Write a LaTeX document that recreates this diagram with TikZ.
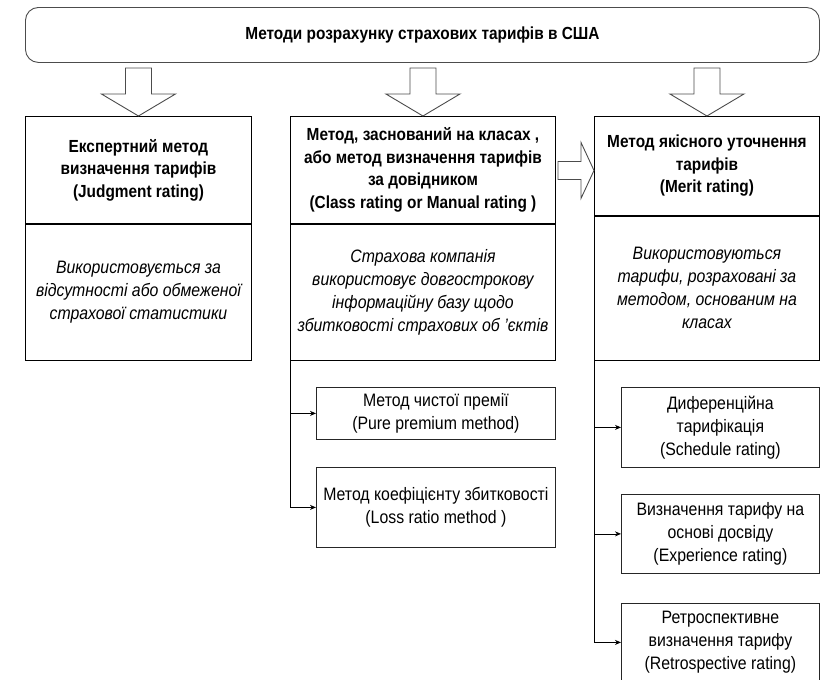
\documentclass[tikz,border=0pt]{standalone}
\usepackage{fontspec}
\setmainfont{Liberation Sans}[FakeStretch=0.88]
\usetikzlibrary{arrows.meta}
\begin{document}
\begin{tikzpicture}[x=1pt,y=-1pt,
  every node/.style={inner sep=0pt, anchor=north west, align=center},
  frame/.style={draw=black, line width=0.9pt},
  subframe/.style={draw=black!85, line width=0.8pt},
  hdr/.style={frame, font=\fontsize{17.5}{22.5}\selectfont\bfseries},
  dsc/.style={frame, font=\fontsize{18}{23}\selectfont\itshape},
  sub/.style={subframe, font=\fontsize{18}{23}\selectfont},
  topbox/.style={draw=black!70, line width=0.9pt, rounded corners=13pt,
    font=\fontsize{17.5}{20}\selectfont\bfseries},
  hollow/.style={draw=black!70, line width=0.9pt, fill=white, line join=miter},
  conn/.style={draw=black, line width=0.8pt, -{Stealth[length=6pt,width=5pt]}},
  downblock/.pic={\path[hollow] (0,0) -- (-37,-22) -- (-13,-22) -- (-13,-48)
    -- (13,-48) -- (13,-22) -- (37,-22) -- cycle;},
  rightblock/.pic={\path[hollow] (0,0) -- (-13,-28) -- (-13,-9) -- (-36,-9)
    -- (-36,9) -- (-13,9) -- (-13,28) -- cycle;}
]
\useasboundingbox (0,0) rectangle (825,680);
\clip (0,0) rectangle (825,680);

% title
\node[topbox, minimum width=794pt, minimum height=55pt] (top) at (25,7)
  {Методи розрахунку страхових тарифів в США};

% three main methods
\node[hdr, minimum width=226pt, minimum height=107pt] (lhead) at (25,116)
  {Експертний метод\\ визначення тарифів\\ (Judgment rating)};
\node[dsc, minimum width=226pt, minimum height=136pt] (ldesc) at (lhead.south west)
  {Використовується за\\ відсутності або обмеженої\\ страхової статистики};

\node[hdr, minimum width=265pt, minimum height=107pt] (mhead) at (290,116)
  {Метод, заснований на класах ,\\ або метод визначення тарифів\\ за довідником\\ (Class rating or Manual rating )};
\node[dsc, minimum width=265pt, minimum height=136pt] (mdesc) at (mhead.south west)
  {Страхова компанія\\ використовує довгострокову\\ інформаційну базу щодо\\ збитковості страхових об ’єктів};

\node[hdr, minimum width=225pt, minimum height=99pt] (rhead) at (594,116)
  {Метод якісного уточнення\\ тарифів\\ (Merit rating)};
\node[dsc, minimum width=225pt, minimum height=144pt] (rdesc) at (rhead.south west)
  {Використовуються\\ тарифи, розраховані за\\ методом, основаним на\\ класах};

% sub-methods
\node[sub, minimum width=239pt, minimum height=52pt] (ms1) at (316,387)
  {Метод чистої премії\\ (Pure premium method)};
\node[sub, minimum width=239pt, minimum height=80pt] (ms2) at (316,467)
  {Метод коефіцієнту збитковості\\ (Loss ratio method )};

\node[sub, minimum width=198pt, minimum height=80pt] (rs1) at (621,387)
  {Диференційна\\ тарифікація\\ (Schedule rating)};
\node[sub, minimum width=198pt, minimum height=79pt] (rs2) at (621,494)
  {Визначення тарифу на\\ основі досвіду\\ (Experience rating)};
\node[sub, minimum width=198pt, minimum height=78pt] (rs3) at (621,603)
  {Ретроспективне\\ визначення тарифу\\ (Retrospective rating)};

% hollow block arrows
\pic at (lhead.north) {downblock};
\pic at (mhead.north) {downblock};
\pic at (rhead.north) {downblock};
\pic at ([yshift=-4.5pt]rhead.west) {rightblock};

% connectors to the sub-methods
\draw[conn] (mdesc.south west) |- (ms1.west);
\draw[conn] (mdesc.south west) |- (ms2.west);
\draw[conn] (rdesc.south west) |- (rs1.west);
\draw[conn] (rdesc.south west) |- (rs2.west);
\draw[conn] (rdesc.south west) |- (rs3.west);
\end{tikzpicture}
\end{document}
